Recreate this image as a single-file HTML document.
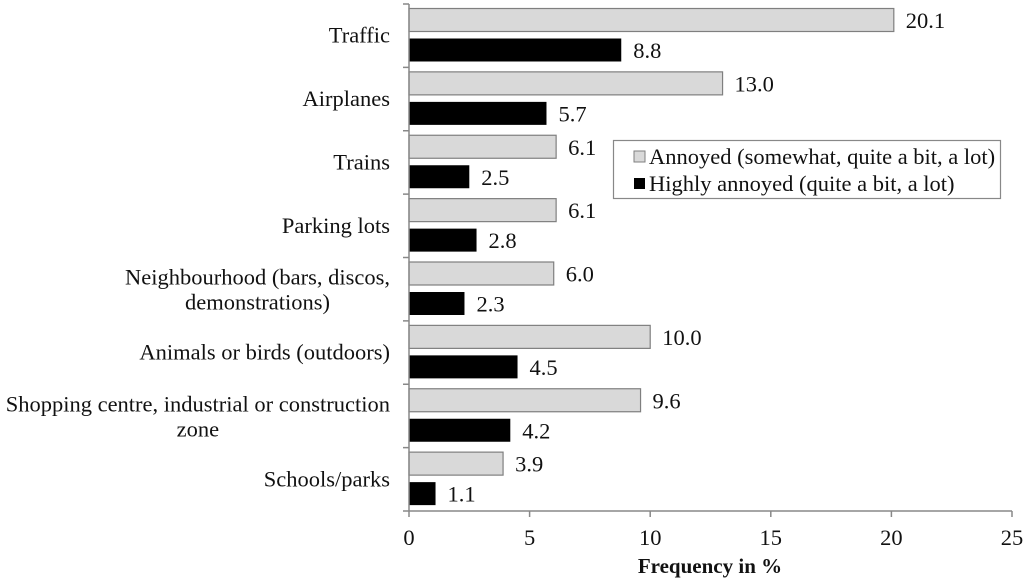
<!DOCTYPE html>
<html><head><meta charset="utf-8"><style>
body{margin:0;background:#fff;}
svg text{font-family:"Liberation Serif",serif;fill:#111;}
</style></head><body>
<svg width="1024" height="581" id="c"></svg>
<script>
const categories=[["Traffic"],["Airplanes"],["Trains"],["Parking lots"],["Neighbourhood (bars, discos,","demonstrations)"],["Animals or birds (outdoors)"],["Shopping centre, industrial or construction","zone"],["Schools/parks"]];
const annoyed=[20.1,13.0,6.1,6.1,6.0,10.0,9.6,3.9];
const highly=[8.8,5.7,2.5,2.8,2.3,4.5,4.2,1.1];
const ticks=[0,5,10,15,20,25];
const svg=document.getElementById('c');const NS='http://www.w3.org/2000/svg';
const x0=409,x1=1012,yTop=4,yBot=511;
const X=v=>x0+(x1-x0)*v/25;
const gh=(yBot-yTop)/categories.length;
const FS=22.5;
function mk(t,a,p){const e=document.createElementNS(NS,t);for(const k in a)e.setAttribute(k,a[k]);(p||svg).appendChild(e);return e;}
categories.forEach((c,i)=>{
 const g=yTop+i*gh;
 let r=mk('rect',{x:x0,y:g+4.5,width:X(annoyed[i])-x0,height:23,fill:'#d9d9d9',stroke:'#7f7f7f','stroke-width':1.2});
 
 let t=mk('text',{x:X(annoyed[i])+12,y:g+24,'font-size':FS});t.textContent=annoyed[i].toFixed(1);
 
 r=mk('rect',{x:x0,y:g+34.5,width:X(highly[i])-x0,height:23,fill:'#000'});
 
 t=mk('text',{x:X(highly[i])+12,y:g+54,'font-size':FS});t.textContent=highly[i].toFixed(1);
 
 const n=c.length;
 const lab=mk('text',{'font-size':FS,'text-anchor':n>1?'middle':'end'});
 
 if(n===1){lab.setAttribute('x',390);lab.setAttribute('y',g+gh/2+7);lab.textContent=c[0];}
 else{
  c.forEach((line,j)=>{const s=mk('tspan',{x:0,y:g+gh/2+8+(j-(n-1)/2)*25},lab);s.textContent=line;});
  const w=lab.getBBox().width;const cx=390-w/2;
  lab.querySelectorAll('tspan').forEach(s=>s.setAttribute('x',cx));
 }
 mk('line',{x1:x0-6,x2:x0,y1:g,y2:g,stroke:'#888','stroke-width':1.5});
});
mk('line',{x1:x0-6,x2:x0,y1:yBot,y2:yBot,stroke:'#888','stroke-width':1.5});
mk('line',{x1:x0,x2:x0,y1:yTop,y2:yBot,stroke:'#888','stroke-width':1.5});
mk('line',{x1:x0,x2:x1,y1:yBot,y2:yBot,stroke:'#888','stroke-width':1.5});
ticks.forEach(v=>{mk('line',{x1:X(v),x2:X(v),y1:yBot,y2:yBot+6,stroke:'#888','stroke-width':1.5});
 const t=mk('text',{x:X(v),y:545,'font-size':FS,'text-anchor':'middle'});t.textContent=v;
 });
const xt=mk('text',{x:710,y:573,'font-size':21,'font-weight':'bold','text-anchor':'middle'});xt.textContent='Frequency in %';

const lg=mk('g',{});
mk('rect',{x:613.5,y:140.5,width:387,height:58,fill:'#fff',stroke:'#888','stroke-width':1.2},lg);
mk('rect',{x:634,y:151,width:11,height:11,fill:'#d9d9d9',stroke:'#7f7f7f'},lg);
mk('rect',{x:634,y:178,width:11,height:11,fill:'#000'},lg);
let a=mk('text',{x:649,y:164,'font-size':FS},lg);a.textContent='Annoyed (somewhat, quite a bit, a lot)';
a=mk('text',{x:649,y:191,'font-size':FS},lg);a.textContent='Highly annoyed (quite a bit, a lot)';
</script>
</body></html>
